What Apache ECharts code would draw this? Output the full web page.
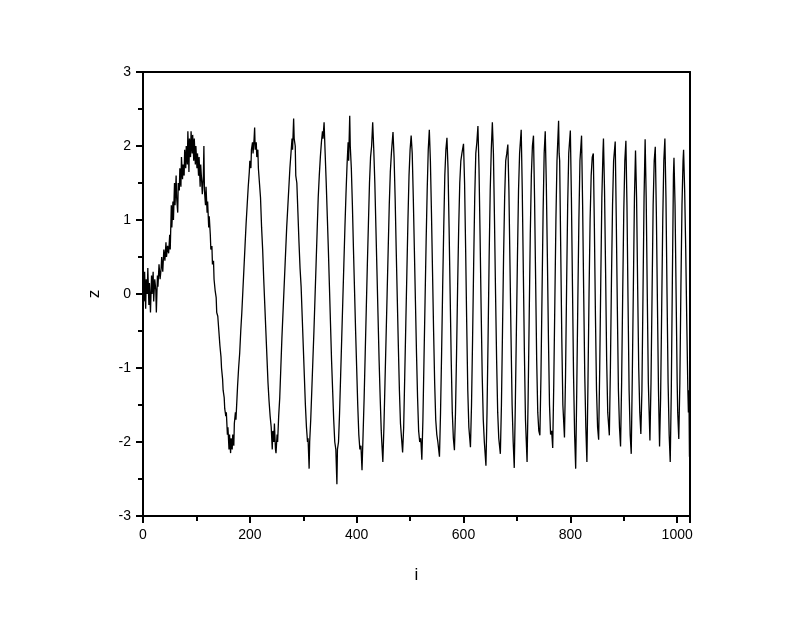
<!DOCTYPE html>
<html>
<head>
<meta charset="utf-8">
<script src="https://cdn.jsdelivr.net/npm/echarts@6/dist/echarts.min.js"></script>
<style>html,body{margin:0;padding:0;background:#fff}#c{width:800px;height:618px}</style>
</head>
<body>
<div id="c"></div>
<script>
// Axis tick labels
const xTicks = [0, 200, 400, 600, 800, 1000];
const yTicks = [-3, -2, -1, 0, 1, 2, 3];
const xName = 'i';
const yName = 'z';

// Samples [i, z], in segments
const segmentStart = [[0,0.25],[2,-0.1],[3,0.3],[5,-0.2],[6,0.2],[8,0.0],[9,0.35],[11,-0.15],[12,0.15],[14,-0.25],[16,0.25],[17,0.0],[19,0.3],[20,-0.1],[22,0.2],[24,0.05],[25,-0.25],[27,0.25],[28,0.1],[30,0.4],[32,0.2],[34,0.35],[35,0.5],[37,0.3],[39,0.6],[41,0.45],[43,0.7],[44,0.5],[46,0.65],[48,0.55],[50,0.8],[51,0.6],[53,1.2],[54,0.9],[56,1.25],[57,1.0],[59,1.5],[60,1.2],[62,1.6],[63,1.3],[65,1.1],[66,1.5],[68,1.4],[69,1.7],[71,1.45],[72,1.85],[74,1.55],[75,1.75],[77,1.6],[78,1.95],[80,1.7],[81,2.0],[83,1.75],[84,2.2],[86,1.65],[87,2.1],[89,1.85],[90,2.2],[92,1.9],[93,2.15],[95,1.8],[96,2.1],[98,1.75],[99,2.0],[101,1.7],[102,1.9],[104,1.6],[105,1.85],[107,1.45],[108,1.75],[110,1.5],[111,1.35],[113,1.6],[114,2.0],[115,1.4],[117,1.2],[118,1.45],[120,1.1],[121,1.25],[123,0.9],[124,1.05],[126,0.8],[127,0.6],[129,0.65],[130,0.4],[132,0.45],[133,0.2],[135,0.05],[137,-0.05],[138,-0.25],[140,-0.3]];
const segmentFirstSwings = [[142,-0.5],[144,-0.7],[146,-0.85],[147,-1.0],[149,-1.15],[150,-1.3],[152,-1.4],[153,-1.55],[155,-1.65],[156,-1.6],[158,-1.9],[159,-1.8],[161,-2.1],[162,-1.9],[164,-2.15],[165,-1.95],[167,-2.1],[168,-1.9],[170,-2.05],[171,-1.75],[173,-1.6],[174,-1.7],[176,-1.4],[177,-1.25],[179,-1.0],[181,-0.8],[183,-0.5],[185,-0.25],[187,0.05],[189,0.35],[191,0.65],[193,0.95],[195,1.2],[197,1.45],[199,1.65],[200,1.8],[202,1.7],[203,1.95],[205,2.05],[206,1.9],[208,2.1],[209,2.25],[210,1.95],[212,2.05],[213,1.85],[215,1.95],[216,1.7],[218,1.5],[220,1.3],[222,0.9],[224,0.6],[226,0.2],[228,-0.15],[230,-0.5],[232,-0.85],[234,-1.2],[236,-1.45],[238,-1.65],[240,-1.8],[242,-2.1],[243,-1.85],[245,-2.0],[246,-1.75],[248,-2.1],[249,-2.15],[251,-1.9],[252,-2.0],[254,-1.65],[256,-1.4],[258,-1.0],[260,-0.6],[263,-0.1],[266,0.4],[269,0.9],[272,1.3],[275,1.7],[277,1.9],[279,2.1],[280,1.95],[282,2.37],[283,2.1],[285,2.0],[286,1.6],[288,1.5],[290,1.1],[292,0.7],[294,0.35],[296,0.1],[298,-0.3],[300,-0.7],[302,-1.1],[304,-1.5],[306,-1.8],[308,-2.0],[309,-1.95],[311,-2.36],[312,-2.0],[314,-1.7],[316,-1.3],[318,-0.9],[320,-0.5],[322,-0.05],[324,0.4],[326,0.85],[328,1.3],[330,1.6],[332,1.85],[334,2.05],[336,2.2],[337,2.1],[339,2.32],[341,1.9],[343,1.5],[345,1.05],[347,0.6],[349,0.1],[351,-0.4],[353,-0.9],[355,-1.3],[357,-1.7],[359,-2.0],[361,-2.1],[363,-2.57],[364,-2.1],[366,-2.0],[368,-1.6],[370,-1.1],[372,-0.6],[374,-0.1],[376,0.4],[378,0.9],[380,1.35],[382,1.75],[384,2.05],[385,1.8],[387,2.41],[388,2.0],[390,1.7],[392,1.2],[394,0.6],[396,0.05],[398,-0.5],[400,-1.0],[402,-1.5],[404,-1.9],[406,-2.1],[408,-2.05],[410,-2.38],[412,-1.9],[414,-1.4],[416,-0.8],[418,-0.2],[420,0.4],[422,0.95],[424,1.5],[426,1.85],[428,2.0],[430,2.32],[432,1.95],[434,1.5],[436,0.9],[438,0.3],[440,-0.3],[442,-0.9],[444,-1.4],[446,-1.85],[447,-2.0],[449,-2.27],[451,-1.8],[453,-1.2],[455,-0.6],[457,0.0],[459,0.6],[461,1.2],[463,1.65],[465,1.9],[466,2.0],[468,2.19],[470,1.85],[472,1.3],[474,0.6],[476,-0.05],[478,-0.7],[480,-1.3],[482,-1.75],[484,-1.95],[486,-2.14],[488,-1.8],[490,-1.1],[492,-0.4],[494,0.3],[496,1.0],[498,1.6],[500,1.95],[502,2.14],[504,1.9],[506,1.3],[508,0.6],[510,-0.1],[512,-0.8],[514,-1.4],[516,-1.85],[518,-2.0],[520,-1.95],[522,-2.24],[524,-1.7],[526,-0.9],[528,-0.1],[530,0.7],[532,1.4],[534,1.95],[536,2.22],[538,1.8],[540,1.1],[542,0.3],[544,-0.5],[546,-1.2],[548,-1.7],[550,-1.9],[552,-2.0],[555,-2.2],[557,-1.6],[559,-0.8],[561,0.1],[563,0.9],[565,1.6],[567,1.95],[569,2.11],[571,1.7],[573,0.9],[575,0.0],[577,-0.9],[579,-1.6],[581,-1.95],[583,-2.11],[585,-1.6],[587,-0.8],[589,0.1],[591,0.9],[593,1.5],[595,1.8],[597,1.9],[600,2.03],[602,1.5],[604,0.6],[606,-0.4],[608,-1.3],[610,-1.8],[613,-2.07],[615,-1.5],[617,-0.6],[619,0.4],[621,1.3],[623,1.9],[625,2.05],[627,2.27],[629,1.7],[631,0.8],[633,-0.2],[635,-1.1],[637,-1.7],[639,-2.0],[642,-2.32],[644,-1.6],[646,-0.6],[648,0.5],[650,1.4],[652,1.95],[654,2.32],[656,1.9],[658,1.0],[660,0.0],[662,-0.9],[664,-1.6],[666,-1.95],[669,-2.16],[671,-1.5],[673,-0.5],[675,0.5],[677,1.3],[679,1.8],[681,1.9],[683,2.02],[685,1.4],[687,0.4],[689,-0.6],[691,-1.5],[693,-2.0],[695,-2.35]];
const segmentEnd = [[697,-1.5],[699,-0.5],[701,0.5],[703,1.4],[705,1.9],[708,2.22],[710,1.4],[712,0.3],[714,-0.8],[716,-1.7],[719,-2.27],[721,-1.4],[723,-0.3],[725,0.8],[727,1.6],[729,2.0],[731,2.14],[733,1.3],[735,0.2],[737,-0.9],[739,-1.6],[741,-1.85],[743,-1.91],[745,-1.1],[747,0.0],[749,1.1],[751,1.9],[753,2.2],[755,1.5],[757,0.5],[759,-0.6],[761,-1.5],[763,-1.9],[765,-1.85],[767,-2.08],[769,-1.2],[771,-0.1],[773,1.0],[775,1.8],[778,2.34],[779,1.9],[780,1.8],[782,0.6],[784,-0.6],[786,-1.5],[789,-1.94],[791,-1.1],[793,0.1],[795,1.2],[797,1.9],[800,2.21],[802,1.3],[804,0.1],[806,-1.1],[808,-1.9],[810,-2.36],[812,-1.3],[814,-0.1],[816,1.0],[818,1.8],[821,2.14],[823,1.2],[825,0.0],[827,-1.1],[829,-1.8],[831,-2.27],[833,-1.2],[835,0.0],[837,1.0],[839,1.6],[841,1.85],[843,1.9],[845,0.9],[847,-0.3],[849,-1.3],[851,-1.8],[853,-1.97],[855,-1.0],[857,0.2],[859,1.3],[861,1.9],[862,2.1],[864,1.4],[866,0.3],[868,-0.9],[870,-1.6],[873,-1.91],[875,-1.0],[877,0.2],[879,1.2],[881,1.8],[884,2.06],[886,1.0],[888,-0.2],[890,-1.3],[892,-1.8],[894,-2.06],[896,-1.2],[898,0.0],[900,1.1],[902,1.8],[904,2.07],[906,1.2],[908,-0.1],[910,-1.3],[912,-1.9],[914,-2.16],[916,-1.1],[918,0.1],[920,1.3],[922,1.94],[924,1.3],[926,0.1],[928,-1.0],[930,-1.6],[932,-1.89],[934,-1.3],[936,0.0],[938,1.3],[940,2.09],[942,1.3],[944,0.0],[946,-1.2],[949,-1.98],[951,-1.2],[953,0.0],[955,1.2],[957,1.8],[959,1.99],[961,1.1],[963,-0.1],[965,-1.3],[967,-2.06],[969,-1.4],[971,-0.2],[973,1.0],[975,1.8],[977,2.1],[979,1.3],[981,0.0],[983,-1.2],[985,-1.9],[987,-2.27],[989,-1.3],[991,0.2],[993,1.6],[994,1.84],[996,1.2],[998,0.0],[1000,-1.2],[1001,-1.6],[1003,-1.96],[1005,-1.2],[1007,0.1],[1009,1.2],[1011,1.8],[1012,1.95],[1014,1.4],[1016,0.6],[1018,-0.4],[1020,-1.3],[1021,-1.6],[1022,-1.3],[1023,-2.2]];

const samples = segmentStart.concat(segmentFirstSwings, segmentEnd);

const FONT = 'Liberation Sans, Arial, sans-serif';
const black = '#000';
const chart = echarts.init(document.getElementById('c'), null, {renderer: 'canvas'});
const boxAxis = {show: true, onZero: false, lineStyle: {color: black, width: 2}};
chart.setOption({
  backgroundColor: '#fff',
  animation: false,
  grid: {left: 143, right: 110, top: 72, bottom: 102, containLabel: false},
  xAxis: [{
    type: 'value', min: xTicks[0], max: 1024, interval: 200, position: 'bottom',
    name: xName, nameLocation: 'middle', nameGap: 51,
    nameTextStyle: {fontFamily: FONT, fontSize: 17, color: black},
    axisLine: boxAxis,
    axisTick: {show: true, inside: false, length: 7, lineStyle: {color: black, width: 2}},
    minorTick: {show: true, splitNumber: 2, length: 5, lineStyle: {color: black, width: 2}},
    axisLabel: {fontFamily: FONT, fontSize: 14, color: black, margin: 12,
      formatter: v => xTicks.indexOf(v) >= 0 ? String(v) : ''},
    splitLine: {show: false}
  }, {
    type: 'value', min: xTicks[0], max: 1024, position: 'top',
    axisLine: boxAxis, axisTick: {show: false}, axisLabel: {show: false}, splitLine: {show: false}
  }],
  yAxis: [{
    type: 'value', min: yTicks[0], max: yTicks[yTicks.length - 1], interval: 1, position: 'left',
    name: yName, nameLocation: 'middle', nameGap: 40,
    nameTextStyle: {fontFamily: FONT, fontSize: 17, color: black},
    axisLine: boxAxis,
    axisTick: {show: true, inside: false, length: 7, lineStyle: {color: black, width: 2}},
    minorTick: {show: true, splitNumber: 2, length: 5, lineStyle: {color: black, width: 2}},
    axisLabel: {fontFamily: FONT, fontSize: 14, color: black, margin: 12},
    splitLine: {show: false}
  }, {
    type: 'value', min: yTicks[0], max: yTicks[yTicks.length - 1], position: 'right',
    axisLine: boxAxis, axisTick: {show: false}, axisLabel: {show: false}, splitLine: {show: false}
  }],
  series: [{
    type: 'line', data: samples, showSymbol: false, symbol: 'none',
    lineStyle: {color: black, width: 1.3}, clip: true, smooth: false
  }]
});
</script>
</body>
</html>
